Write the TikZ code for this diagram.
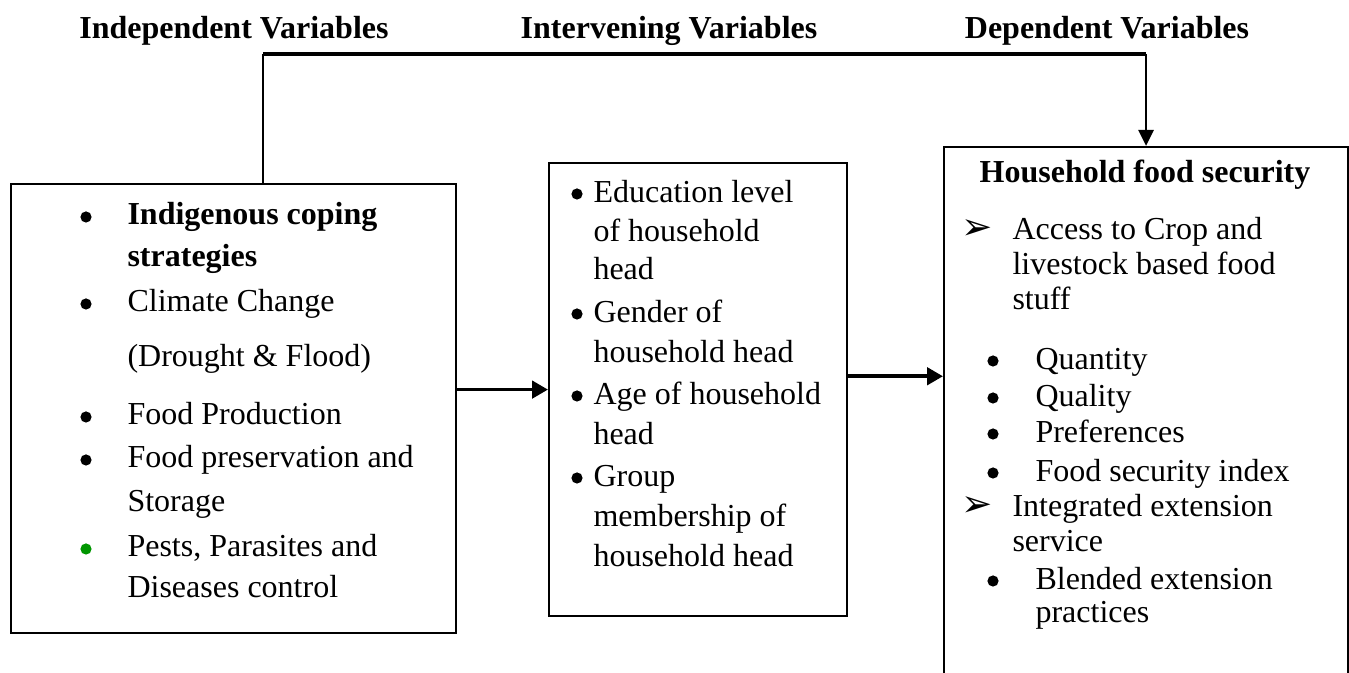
\documentclass[tikz,border=0pt]{standalone}
\usepackage{fontspec}
\setmainfont{Liberation Serif}
\newfontfamily\dingfont{DejaVu Sans}
\usetikzlibrary{arrows.meta}
\definecolor{pestgreen}{RGB}{0,150,0}

\tikzset{
  box/.style={draw, line width=0.8pt, inner sep=0pt, anchor=north west},
  entry/.style={anchor=base west, inner sep=0pt},
  heading/.style={anchor=base, inner sep=0pt, font=\fontsize{12}{14}\selectfont\bfseries},
  dot/.style={circle, fill, inner sep=0pt, minimum size=4.2pt},
  flow/.style={line width=1.4pt, -{Triangle[length=6pt,width=6.5pt]}},
}

\begin{document}
\begin{tikzpicture}[x=0.375pt, y=-0.375pt, font=\fontsize{12}{14}\selectfont]
  \useasboundingbox (0,0) rectangle (1349,673);
  \clip (0,0) rectangle (1349,673);

  % column headings
  \node[heading] (indhead) at (234,39) {Independent Variables};
  \node[heading] (inthead) at (669,39) {Intervening Variables};
  \node[heading] (dephead) at (1107,39) {Dependent Variables};

  % the three boxes
  \node[box, minimum width=166.9pt, minimum height=168.4pt] (indep) at (10,183) {};
  \node[box, minimum width=111.75pt, minimum height=169.9pt] (interv) at (548,162) {};
  \node[box, minimum width=151.5pt, minimum height=215pt] (depend) at (943,146) {};

  % independent variables
  \foreach \yy/\txt [count=\i] in {225/{\textbf{Indigenous coping}}, 267/{\textbf{strategies}},
      312/{Climate Change}, 367/{(Drought \& Flood)}, 425/{Food Production},
      468/{Food preservation and}, 512/{Storage}, 557/{Pests, Parasites and}, 598/{Diseases control}}
    \node[entry] (indtxt\i) at (127,\yy) {\txt};
  \foreach \yy [count=\i] in {225,312,425,468}
    \node[dot] (indbul\i) at (86,\yy-8) {};
  \node[dot, fill=pestgreen] (indbul5) at (86,557-8) {};

  % intervening variables
  \foreach \yy/\txt [count=\i] in {203/{Education level}, 242/{of household}, 280/{head},
      323/{Gender of}, 363/{household head}, 405/{Age of household}, 445/{head},
      487/{Group}, 527/{membership of}, 567/{household head}}
    \node[entry] (inttxt\i) at (593,\yy) {\txt};
  \foreach \yy [count=\i] in {203,323,405,487}
    \node[dot] (intbul\i) at (577,\yy-9) {};

  % dependent variables
  \node[heading] (deptitle) at (1145,183) {Household food security};
  \foreach \yy/\txt [count=\i] in {240/{Access to Crop and}, 275/{livestock based food}, 310/{stuff},
      517/{Integrated extension}, 552/{service}}
    \node[entry] (deptxt\i) at (1012,\yy) {\txt};
  \foreach \yy [count=\i] in {240,517}
    \node[anchor=base, inner sep=0pt] (deparr\i) at (977,\yy) {\dingfont\fontsize{14}{14}\selectfont ➢};
  \foreach \yy/\txt [count=\i] in {370/{Quantity}, 407/{Quality}, 443/{Preferences},
      482/{Food security index}, 590/{Blended extension}, 623/{practices}}
    \node[entry] (depsub\i) at (1035,\yy) {\txt};
  \foreach \yy [count=\i] in {370,407,443,482,590}
    \node[dot] (depbul\i) at (993,\yy-9) {};

  % connectors
  \coordinate (bend) at (263,54);
  \draw[line width=0.6pt] (indep.north -| bend) -- (bend);
  \draw[line width=1.2pt] (bend) -- (bend -| depend.north);
  \draw[line width=1pt, -{Triangle[length=6pt,width=5.6pt]}] (bend -| depend.north) -- (depend.north);
  \draw[flow] (indep.east |- interv.west) -- (interv.west);
  \draw[flow] ([yshift=5pt]interv.east) -- ([yshift=5pt]interv.east -| depend.west);
\end{tikzpicture}
\end{document}
